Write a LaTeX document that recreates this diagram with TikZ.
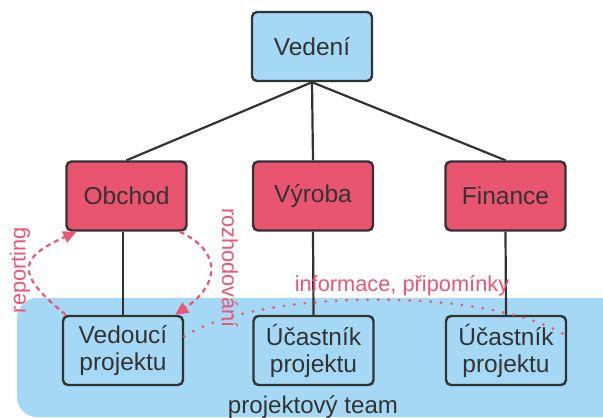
\documentclass[tikz,border=0pt]{standalone}
\usepackage{fontspec}
\setmainfont{Liberation Sans}
\usetikzlibrary{arrows.meta,calc}
\definecolor{teamblue}{HTML}{A4D8F5}
\definecolor{deptred}{HTML}{E9546E}
\definecolor{notered}{HTML}{EC5573}
\definecolor{ink}{HTML}{333333}
\begin{document}
\begin{tikzpicture}[x=1pt,y=-1pt,
  box/.style={draw=ink, line width=2.4pt, rounded corners=5pt,
    minimum width=120pt, minimum height=69pt, inner sep=0pt,
    text=ink, font=\fontsize{24.5}{27}\selectfont, align=center},
  head/.style={box, fill=teamblue},
  dept/.style={box, fill=deptred},
  member/.style={box, fill=teamblue},
  link/.style={draw=ink, line width=2.2pt},
  fbloop/.style={draw=notered, line width=2.2pt, dash pattern=on 5pt off 4pt,
    -{Triangle[length=13pt,width=12pt]}},
  dots/.style={draw=notered, line width=3pt, line cap=round,
    dash pattern=on 0pt off 10.5pt},
  note/.style={text=notered, font=\fontsize{21.8}{24}\selectfont, inner sep=0pt},
]
\useasboundingbox (0,0) rectangle (603,418);

% project team area
\begin{scope}
  \clip (0,0) rectangle (603,418);
  \fill[teamblue, rounded corners=20pt] (17,298) rectangle (625,417);
\end{scope}

% organisation boxes
\node[head] (ved) at (312,46.5) {Vedení};
\node[dept] (ob) at (126.5,196) {Obchod};
\node[dept] (vyr) at (313,196) {Výroba};
\node[dept] (fin) at (505.5,196) {Finance};
\node[member] (vp) at (123,350.5) {Vedoucí\\projektu};
\node[member] (u1) at (313.5,350.5) {Účastník\\projektu};
\node[member] (u2) at (506,350.5) {Účastník\\projektu};

% hierarchy
\draw[link] (ved.south) -- (ob.north);
\draw[link] (ved.south) -- (vyr.north);
\draw[link] (ved.south) -- (fin.north);
\draw[link] (vp.north |- ob.south) -- (vp.north);
\draw[link] (vyr.south) -- (u1.north);
\draw[link] (fin.south) -- (u2.north);

% reporting / decision loop
\draw[fbloop] ([xshift=4pt]vp.north west)
  .. controls +(-52,-42) and +(-57,26) .. ([xshift=11pt]ob.south west);
\draw[fbloop] ([xshift=-8pt]ob.south east)
  .. controls +(43,20) and +(44,-30) .. ([xshift=-9pt]vp.north east);

% information flow
\draw[dots] (vp.13) .. controls +(77,-49) and +(-76,-49) .. (u2.13);

% labels
\node[note, anchor=base] (info) at (402,291) {informace, připomínky};
\node[note, rotate=90] (rep) at (20,270) {reporting};
\node[note, rotate=-90] (roz) at (230,268) {rozhodování};
\node[text=ink, font=\fontsize{24.1}{26}\selectfont, anchor=base, inner sep=0pt]
  (team) at (313,413) {projektový team};
\end{tikzpicture}
\end{document}
